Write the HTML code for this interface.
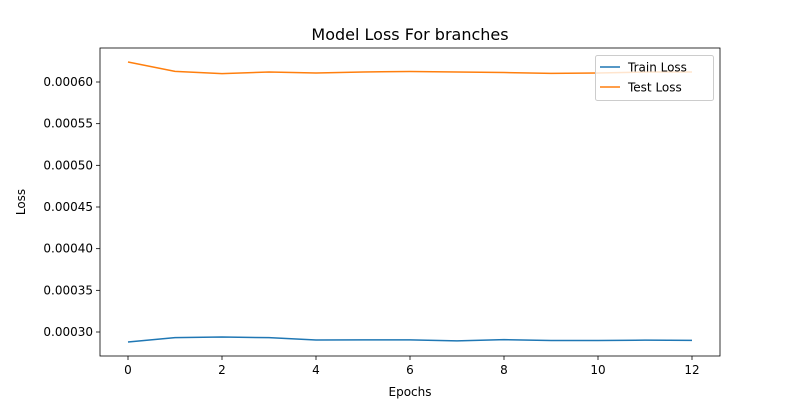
<!DOCTYPE html>
<html><head><meta charset="utf-8"><style>
body{margin:0;background:#fff;width:800px;height:400px;overflow:hidden}
text{font-family:"DejaVu Sans","Liberation Sans",sans-serif;fill:#000}
</style></head><body>
<svg id="chart" width="800" height="400" xmlns="http://www.w3.org/2000/svg"></svg>
<script>
const epochs=[0,1,2,3,4,5,6,7,8,9,10,11,12];
const trainLoss=[0.000288,0.0002932,0.000294,0.0002932,0.0002904,0.0002906,0.0002906,0.0002894,0.0002908,0.0002898,0.0002898,0.0002902,0.00029];
const testLoss=[0.000624,0.0006128,0.00061,0.000612,0.0006108,0.000612,0.0006126,0.000612,0.0006114,0.0006104,0.0006108,0.000612,0.000612];
const xTicks=[0,2,4,6,8,10,12];
const yTicks=[0.0003,0.00035,0.0004,0.00045,0.0005,0.00055,0.0006];
const L=100,R=720,T=48,B=356;
const x=v=>128+(v-0)*(692-128)/12;
const y=v=>332-(v-0.0003)*(250/0.0003);
const svg=document.getElementById('chart');
const NS='http://www.w3.org/2000/svg';
function mk(tag,attrs,parent){const e=document.createElementNS(NS,tag);for(const k in attrs)e.setAttribute(k,attrs[k]);(parent||svg).appendChild(e);return e;}
let e;
e=mk('text',{x:410,y:40,'text-anchor':'middle','font-size':16});e.textContent='Model Loss For branches';


xTicks.forEach(v=>{
 const t=mk('line',{x1:x(v),x2:x(v),y1:B,y2:B+4,stroke:'#000','stroke-width':0.8});
 
 
 const l=mk('text',{x:x(v),y:B+18,'text-anchor':'middle','font-size':12});l.textContent=v;
 
 
});
yTicks.forEach(v=>{
 const t=mk('line',{x1:L-4,x2:L,y1:y(v),y2:y(v),stroke:'#000','stroke-width':0.8});
 
 
 const l=mk('text',{x:L-7,y:y(v)+4,'text-anchor':'end','font-size':12});l.textContent=v.toFixed(5);
 
 
});
e=mk('text',{x:410,y:396,'text-anchor':'middle','font-size':12});e.textContent='Epochs';


e=mk('text',{x:0,y:0,'text-anchor':'middle','font-size':12,transform:'translate(25,202) rotate(-90)'});e.textContent='Loss';


function line(data,color,name){
 const p=mk('polyline',{points:data.map((v,i)=>x(epochs[i])+','+y(v)).join(' '),fill:'none',stroke:color,'stroke-width':1.5,'stroke-linejoin':'round'});
 
 
}
line(trainLoss,'#1f77b4','train-loss-line');
line(testLoss,'#ff7f0e','test-loss-line');
e=mk('rect',{x:L,y:T,width:R-L,height:B-T,fill:'none',stroke:'#000','stroke-width':0.8});


const g=mk('g',{});


mk('rect',{x:595.5,y:55.5,width:118,height:45,rx:2,fill:'#fff','fill-opacity':0.8,stroke:'#ccc'},g);
[['Train Loss','#1f77b4',67],['Test Loss','#ff7f0e',87]].forEach(([n,c,yy])=>{
 const it=mk('g',{},g);
 
 
 mk('line',{x1:600,x2:620,y1:yy,y2:yy,stroke:c,'stroke-width':1.5},it);
 const t=mk('text',{x:628,y:yy+4.5,'font-size':12},it);t.textContent=n;
});
</script>
</body></html>
